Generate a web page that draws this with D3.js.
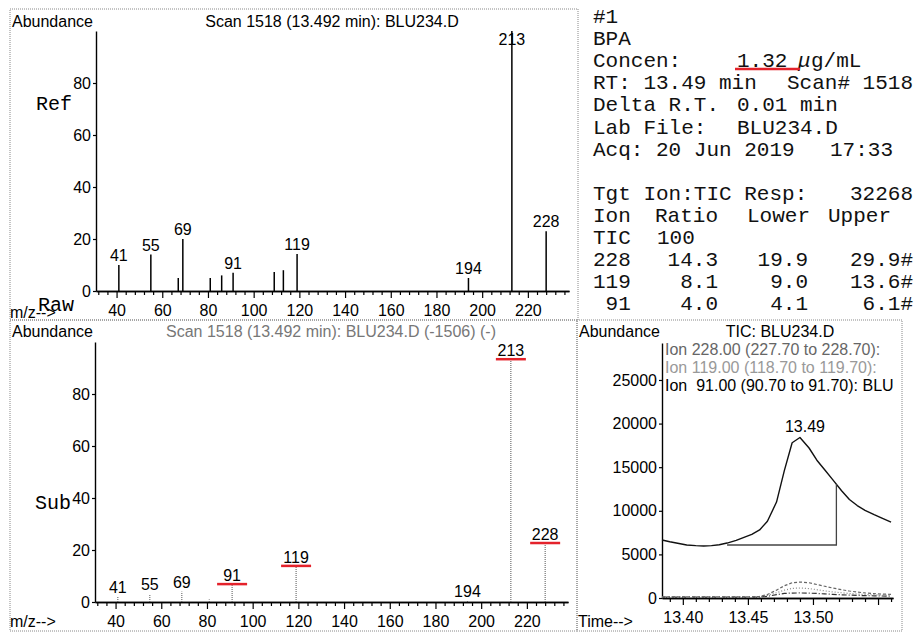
<!DOCTYPE html>
<html>
<head>
<meta charset="utf-8">
<script src="https://cdn.jsdelivr.net/npm/d3@7"></script>
<style>
body { margin: 0; background: #fff; }
svg { display: block; }
text { font-family: Arial, "Liberation Sans", sans-serif; }
.mono, .mono text { font-family: "Liberation Mono", "Courier New", monospace; }
</style>
</head>
<body>
<div id="visuals"></div>
<script>
var width = 915;
var height = 633;

// reference spectrum (top)
var ref_mz =    [41, 55, 67, 69, 81, 86, 91, 109, 113, 119, 194, 213, 228];
var ref_abund = [10, 14, 5, 20, 5, 6, 7, 7.3, 8, 14.2, 5, 100, 23];
var ref_labels = [41, 55, 69, 91, 119, 194, 213, 228];

// subtracted spectrum (bottom)
var sub_mz =    [41, 55, 69, 81, 91, 119, 194, 213, 228];
var sub_abund = [2, 3, 4, 1, 6.5, 13.5, 0.5, 93, 22.3];
var sub_labels = [41, 55, 69, 91, 119, 194, 213, 228];
var sub_marked = [91, 119, 213, 228];

// TIC + ion chromatograms
var tic_time = [13.384, 13.390, 13.397, 13.403, 13.410, 13.416, 13.422, 13.428, 13.434, 13.441,
	13.447, 13.453, 13.459, 13.465, 13.472, 13.478, 13.484, 13.490, 13.497, 13.503,
	13.509, 13.515, 13.522, 13.528, 13.534, 13.540, 13.547, 13.553, 13.560];
var tic_abund = [6650, 6450, 6250, 6080, 6000, 5960, 6000, 6100, 6300, 6600,
	6950, 7300, 7800, 8800, 11000, 14600, 17800, 18400, 17200, 15800,
	14700, 13600, 12300, 11300, 10600, 10050, 9550, 9150, 8700];
var ion228 = [130, 130, 130, 130, 130, 130, 130, 130, 130, 130,
	130, 140, 180, 400, 900, 1400, 1750, 1830, 1750, 1550,
	1350, 1150, 950, 800, 680, 580, 500, 450, 420];
var ion119 = [110, 110, 110, 110, 110, 110, 110, 110, 110, 110,
	110, 115, 150, 300, 600, 900, 1100, 1150, 1080, 950,
	820, 700, 600, 520, 450, 400, 360, 330, 310];
var ion91 = [90, 90, 90, 90, 90, 90, 90, 90, 90, 90,
	90, 95, 120, 200, 380, 520, 570, 580, 560, 520,
	470, 420, 370, 330, 300, 270, 250, 230, 220];
var integ_start = 13.434, integ_end = 13.518, integ_base = 6080;
var peak_rt = 13.49;
var ion_legend = ["Ion 228.00 (227.70 to 228.70):",
	"Ion 119.00 (118.70 to 119.70):",
	"Ion  91.00 (90.70 to 91.70): BLU"];

// quant report text
var report_rows = [
	["#1"], ["BPA"], ["Concen:", "1.32 ", "\u03bcg/mL"], ["RT: 13.49 min", "Scan# 1518"],
	["Delta R.T.", "0.01 min"], ["Lab File:", "BLU234.D"], ["Acq: 20 Jun 2019", "17:33"]
];
var ion_table = [
	["228", "14.3", "19.9", "29.9#"],
	["119", "8.1", "9.0", "13.6#"],
	[" 91", "4.0", "4.1", "6.1#"]
];

var svg = d3.select("#visuals").append("svg")
	.attr("width", width)
	.attr("height", height);

function frame(x0, y0, x1, y1) {
	svg.append("rect")
		.attr("x", x0).attr("y", y0)
		.attr("width", x1 - x0).attr("height", y1 - y0)
		.attr("fill", "none")
		.attr("stroke", "#888")
		.attr("stroke-width", 1)
		.attr("stroke-dasharray", "1,1");
}

frame(10, 9, 578, 320);
frame(10, 320, 577, 631);
frame(577, 320, 902, 631);

function style_axis(g) {
	g.selectAll("path").attr("stroke", "#000").attr("stroke-width", 1.4);
	g.selectAll("line").attr("stroke", "#000").attr("stroke-width", 1.2);
	g.selectAll("text").attr("font-size", 16).attr("fill", "#000")
		.attr("font-family", "Arial, 'Liberation Sans', sans-serif");
}

function draw_spectrum(opt) {
	var x = d3.scaleLinear().domain([31, 238]).range(opt.xr);
	var y = d3.scaleLinear().domain([0, 100]).range(opt.yr);

	var minor = d3.range(32, 238, 4).filter(function(v) { return v % 20 != 0; });
	svg.append("g")
		.attr("transform", "translate(0," + opt.yr[0] + ")")
		.call(d3.axisBottom(x).tickValues(minor).tickSize(4).tickFormat("").tickSizeOuter(0))
		.call(style_axis);
	svg.append("g")
		.attr("transform", "translate(0," + opt.yr[0] + ")")
		.call(d3.axisBottom(x).tickValues(d3.range(40, 238, 20)).tickSize(7).tickPadding(7).tickSizeOuter(0))
		.call(style_axis);
	svg.append("g")
		.attr("transform", "translate(" + opt.xr[0] + ",0)")
		.call(d3.axisLeft(y).tickValues([0, 20, 40, 60, 80]).tickSize(3).tickPadding(2).tickSizeOuter(0))
		.call(style_axis);

	svg.append("g").selectAll("line")
		.data(opt.mz)
		.enter().append("line")
		.attr("x1", function(d) { return x(d); })
		.attr("x2", function(d) { return x(d); })
		.attr("y1", y(0))
		.attr("y2", function(d, i) { return y(opt.abund[i]); })
		.attr("stroke", opt.color)
		.attr("stroke-width", opt.lw)
		.attr("stroke-dasharray", opt.dash);

	function label_y(m) {
		var v = opt.abund[opt.mz.indexOf(m)];
		return Math.max(y(v) - 4, opt.yr[1] + 14);
	}

	svg.append("g").selectAll("text")
		.data(opt.labels)
		.enter().append("text")
		.attr("x", function(d) { return x(d); })
		.attr("y", label_y)
		.attr("text-anchor", "middle")
		.attr("font-size", 16)
		.text(function(d) { return d; });

	if (opt.marked) {
		svg.append("g").selectAll("line")
			.data(opt.marked)
			.enter().append("line")
			.attr("x1", function(d) { return x(d) - 15; })
			.attr("x2", function(d) { return x(d) + 15; })
			.attr("y1", function(d) { return label_y(d) + 3; })
			.attr("y2", function(d) { return label_y(d) + 3; })
			.attr("stroke", "#e4222b")
			.attr("stroke-width", 2.5);
	}
}

draw_spectrum({xr: [96, 569], yr: [291, 31], mz: ref_mz, abund: ref_abund, labels: ref_labels,
	color: "#000", lw: 1.5, dash: null});
draw_spectrum({xr: [95, 568], yr: [602, 342], mz: sub_mz, abund: sub_abund, labels: sub_labels,
	marked: sub_marked, color: "#555", lw: 1, dash: "1,1"});

// panel texts
svg.append("text").attr("x", 12).attr("y", 27).attr("font-size", 16).text("Abundance");
svg.append("text").attr("x", 332).attr("y", 27).attr("font-size", 16).attr("text-anchor", "middle")
	.text("Scan 1518 (13.492 min): BLU234.D");
svg.append("text").attr("class", "mono").attr("x", 36).attr("y", 110).attr("font-size", 20).text("Ref");
svg.append("text").attr("x", 10).attr("y", 318).attr("font-size", 16).text("m/z-->");
svg.append("text").attr("class", "mono").attr("x", 38).attr("y", 311).attr("font-size", 20).text("Raw");

svg.append("text").attr("x", 12).attr("y", 337).attr("font-size", 16).text("Abundance");
svg.append("text").attr("x", 331).attr("y", 337).attr("font-size", 16).attr("text-anchor", "middle")
	.attr("fill", "#777").text("Scan 1518 (13.492 min): BLU234.D (-1506) (-)");
svg.append("text").attr("class", "mono").attr("x", 35).attr("y", 509).attr("font-size", 20).text("Sub");
svg.append("text").attr("x", 10).attr("y", 627).attr("font-size", 16).text("m/z-->");

// TIC panel
function draw_tic() {
	var x = d3.scaleLinear().domain([13.384, 13.5615]).range([662, 893]);
	var y = d3.scaleLinear().domain([0, 29240]).range([598, 343]);

	svg.append("clipPath").attr("id", "ticclip")
		.append("rect").attr("x", 577).attr("y", 320).attr("width", 324).attr("height", 311);
	var g = svg.append("g").attr("clip-path", "url(#ticclip)");

	var minor = d3.range(13.39, 13.5615, 0.01).filter(function(v) {
		return Math.abs(v * 20 - Math.round(v * 20)) > 0.01;
	});
	g.append("g").attr("transform", "translate(0,598)")
		.call(d3.axisBottom(x).tickValues(minor).tickSize(4).tickFormat("").tickSizeOuter(0))
		.call(style_axis);
	g.append("g").attr("transform", "translate(0,598)")
		.call(d3.axisBottom(x).tickValues([13.40, 13.45, 13.50, 13.55]).tickSize(7).tickPadding(7)
			.tickFormat(function(d) { return d > 13.52 ? "" : d3.format(".2f")(d); }).tickSizeOuter(0))
		.call(style_axis);
	g.append("g").attr("transform", "translate(662,0)")
		.call(d3.axisLeft(y).tickValues([0, 5000, 10000, 15000, 20000, 25000]).tickSize(3).tickPadding(2)
			.tickFormat(d3.format("d")).tickSizeOuter(0))
		.call(style_axis);

	var line = d3.line()
		.x(function(d, i) { return x(tic_time[i]); })
		.y(function(d) { return y(d); });

	var traces = [
		{v: ion91, c: "#333", dash: "5,2,1,2", w: 1.2},
		{v: ion119, c: "#888", dash: "1,2", w: 1.2},
		{v: ion228, c: "#666", dash: "3,2", w: 1.2}
	];
	traces.forEach(function(t) {
		g.append("path").attr("d", line(t.v)).attr("fill", "none")
			.attr("stroke", t.c).attr("stroke-width", t.w).attr("stroke-dasharray", t.dash);
	});

	g.append("path").attr("d", line(tic_abund)).attr("fill", "none")
		.attr("stroke", "#111").attr("stroke-width", 1.4).attr("stroke-linejoin", "round");

	// integration baseline
	var end_val = d3.interpolateNumber(13600, 12300)((integ_end - 13.515) / (13.522 - 13.515));
	g.append("path")
		.attr("d", "M" + x(integ_start) + "," + y(integ_base) + "H" + x(integ_end) + "V" + y(end_val))
		.attr("fill", "none").attr("stroke", "#444").attr("stroke-width", 1.3);

	g.append("text").attr("x", x(peak_rt) + 5).attr("y", 432).attr("font-size", 16)
		.attr("text-anchor", "middle").text(peak_rt.toFixed(2));

	var legend_colors = ["#666", "#999", "#000"];
	g.selectAll(".leg").data(ion_legend).enter().append("text")
		.attr("x", 665).attr("y", function(d, i) { return 355 + i * 18; })
		.attr("font-size", 16).attr("fill", function(d, i) { return legend_colors[i]; })
		.attr("xml:space", "preserve").style("white-space", "pre")
		.text(function(d) { return d; });

	g.append("text").attr("x", 579).attr("y", 337).attr("font-size", 16).text("Abundance");
	g.append("text").attr("x", 780).attr("y", 337).attr("font-size", 16).attr("text-anchor", "middle").text("TIC: BLU234.D");
	g.append("text").attr("x", 578).attr("y", 627).attr("font-size", 16).text("Time-->");
}
draw_tic();

// report block
var rep = svg.append("g").attr("class", "mono").attr("font-size", 21).attr("fill", "#111");
var col2_x = [0, 735, 737, 787, 737, 737, 830];
report_rows.forEach(function(r, i) {
	var yy = 23 + i * 22.1;
	rep.append("text").attr("x", 593).attr("y", yy).text(r[0]);
	if (r.length > 1) {
		rep.append("text").attr("x", col2_x[i]).attr("y", yy).text(r[1]);
	}
	if (r.length > 2) {
		rep.append("text").attr("x", 798).attr("y", yy).attr("font-style", "italic").text(r[2].slice(0, 1));
		rep.append("text").attr("x", 811).attr("y", yy).text(r[2].slice(1));
	}
});
svg.append("line").attr("x1", 735).attr("x2", 800).attr("y1", 69).attr("y2", 69)
	.attr("stroke", "#e4222b").attr("stroke-width", 2.5);

var t0 = 200;
rep.append("text").attr("x", 593).attr("y", t0).text("Tgt Ion:TIC Resp:");
rep.append("text").attr("x", 913).attr("y", t0).attr("text-anchor", "end").text("32268");
rep.append("text").attr("x", 593).attr("y", t0 + 22).text("Ion");
rep.append("text").attr("x", 655).attr("y", t0 + 22).text("Ratio");
rep.append("text").attr("x", 747).attr("y", t0 + 22).text("Lower");
rep.append("text").attr("x", 828).attr("y", t0 + 22).text("Upper");
rep.append("text").attr("x", 593).attr("y", t0 + 44).text("TIC");
rep.append("text").attr("x", 657).attr("y", t0 + 44).text("100");
var col_right = [null, 718, 808, 913];
ion_table.forEach(function(r, i) {
	var yy = t0 + 66 + i * 22;
	rep.append("text").attr("x", 593).attr("y", yy).attr("xml:space", "preserve").style("white-space", "pre").text(r[0]);
	for (var k = 1; k < 4; k++) {
		rep.append("text").attr("x", col_right[k]).attr("y", yy).attr("text-anchor", "end").text(r[k]);
	}
});
</script>
</body>
</html>
